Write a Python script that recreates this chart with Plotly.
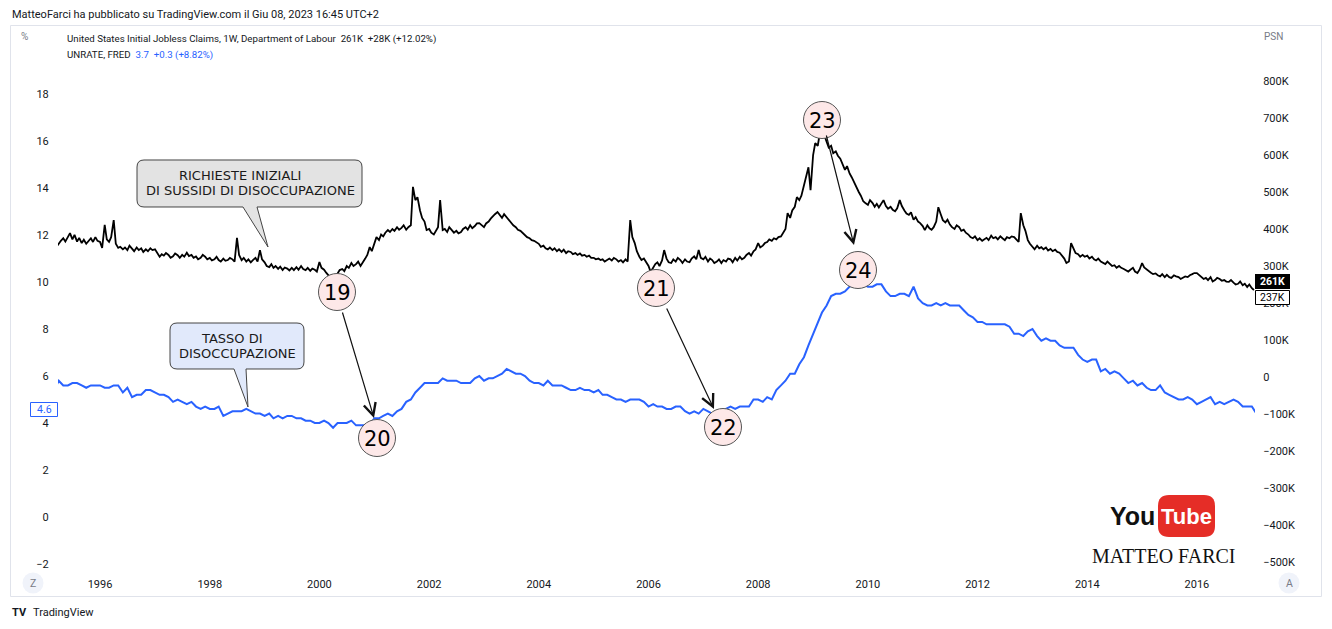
import pandas as pd
import plotly.graph_objects as go

# ---------------- DATA ----------------
# Initial jobless claims (thousands), semi-monthly readings, from 1995-03-01
claims_k = [
    # 1995 (Mar-Dec)
    343, 352, 360, 368, 375, 366, 380, 389, 372, 384, 366, 376, 362, 371, 360, 368, 375, 365, 378, 368,
    # 1996
    365, 349, 411, 372, 365, 378, 424, 360, 349, 352, 345, 350, 343, 355, 346, 340, 350, 343, 348, 338, 345, 340, 348, 343,
    # 1997
    345, 335, 325, 332, 328, 335, 330, 322, 326, 334, 329, 322, 330, 325, 336, 327, 330, 322, 326, 318, 322, 330, 325, 318,
    # 1998
    322, 315, 318, 325, 316, 312, 320, 314, 316, 322, 318, 312, 376, 330, 316, 322, 312, 318, 310, 316, 322, 312, 343, 318,
    # 1999
    310, 300, 297, 305, 295, 300, 292, 298, 289, 296, 293, 288, 295, 289, 297, 290, 300, 292, 289, 295, 287, 293, 290, 285,
    # 2000
    311, 295, 290, 282, 275, 268, 272, 268, 280, 289, 292, 286, 300, 295, 308, 300, 305, 312, 300, 308, 320, 330, 351, 340,
    # 2001
    365, 378, 370, 385, 380, 390, 397, 392, 400, 395, 405, 398, 403, 410, 398, 405, 410, 514, 478, 486, 450, 430, 420, 397,
    # 2002
    400, 390, 385, 395, 405, 478, 397, 400, 392, 405, 398, 390, 395, 388, 392, 400, 405, 398, 410, 402, 408, 415, 416, 410,
    # 2003
    405, 415, 420, 428, 435, 440, 446, 438, 430, 440, 432, 424, 418, 410, 405, 398, 395, 389, 385, 378, 375, 370, 368, 365,
    # 2004
    360, 352, 355, 348, 345, 350, 343, 348, 340, 345, 338, 344, 335, 340, 338, 332, 335, 330, 334, 328, 330, 325, 328, 322,
    # 2005
    322, 318, 320, 316, 318, 312, 316, 320, 315, 322, 318, 312, 316, 310, 318, 312, 424, 378, 362, 340, 325, 316, 320, 310,
    # 2006
    300, 284, 295, 305, 310, 300, 315, 343, 320, 310, 308, 318, 312, 322, 316, 308, 318, 312, 310, 320, 326, 318, 343, 322,
    # 2007
    318, 325, 312, 320, 316, 308, 312, 318, 308, 316, 312, 320, 318, 310, 322, 315, 325, 318, 322, 330, 335, 328, 340, 345,
    # 2008
    362, 350, 355, 362, 365, 372, 368, 375, 372, 378, 380, 388, 400, 443, 430, 450, 460, 486, 478, 490, 520, 540, 567, 505,
    # 2009
    600, 632, 625, 659, 648, 655, 632, 620, 625, 605, 610, 598, 590, 575, 560, 570, 550, 540, 525, 514, 500, 490, 475, 470,
    # 2010
    465, 478, 470, 460, 468, 458, 470, 478, 462, 455, 460, 452, 448, 456, 478, 462, 450, 442, 438, 445, 425, 432, 420, 416,
    # 2011
    408, 397, 410, 402, 398, 405, 420, 459, 440, 424, 418, 425, 412, 405, 400, 410, 405, 395, 398, 390, 385, 378, 375, 380,
    # 2012
    370, 375, 368, 372, 376, 370, 382, 375, 378, 372, 380, 375, 370, 378, 375, 380, 378, 372, 365, 443, 410, 395, 370, 360,
    # 2013
    352, 345, 355, 348, 351, 345, 350, 342, 346, 340, 344, 338, 336, 330, 320, 308, 312, 362, 345, 335, 332, 325, 330, 325,
    # 2014
    328, 320, 325, 318, 315, 320, 312, 308, 305, 312, 306, 300, 302, 295, 300, 295, 292, 288, 285, 290, 295, 285, 281, 290,
    # 2015
    308, 296, 290, 285, 282, 278, 280, 275, 272, 278, 270, 276, 270, 268, 275, 272, 270, 265, 268, 272, 270, 275, 278, 281,
    # 2016
    281, 276, 270, 265, 268, 262, 270, 258, 262, 268, 265, 260, 262, 258, 257, 262, 255, 250, 252, 258, 248, 252, 243, 250,
    # 2017 (Jan)
    240, 235,
]

# Unemployment rate (%), monthly, from 1995-03
unrate = [
    5.4, 5.8, 5.6, 5.6, 5.7, 5.7, 5.6, 5.5, 5.6, 5.6,
    5.6, 5.5, 5.5, 5.6, 5.6, 5.3, 5.5, 5.1, 5.2, 5.2, 5.4, 5.4,
    5.3, 5.2, 5.2, 5.1, 4.9, 5.0, 4.9, 4.8, 4.9, 4.7, 4.6, 4.7,
    4.6, 4.6, 4.7, 4.3, 4.4, 4.5, 4.5, 4.5, 4.6, 4.5, 4.4, 4.4,
    4.3, 4.4, 4.2, 4.3, 4.2, 4.3, 4.3, 4.2, 4.2, 4.1, 4.1, 4.0,
    4.0, 4.1, 4.0, 3.8, 4.0, 4.0, 4.0, 4.1, 3.9, 3.9, 3.9, 3.9,
    4.2, 4.2, 4.3, 4.4, 4.3, 4.5, 4.6, 4.9, 5.0, 5.3, 5.5, 5.7,
    5.7, 5.7, 5.7, 5.9, 5.8, 5.8, 5.8, 5.7, 5.7, 5.7, 5.9, 6.0,
    5.8, 5.9, 5.9, 6.0, 6.1, 6.3, 6.2, 6.1, 6.1, 6.0, 5.8, 5.7,
    5.7, 5.6, 5.8, 5.6, 5.6, 5.6, 5.5, 5.4, 5.4, 5.5, 5.4, 5.4,
    5.3, 5.4, 5.2, 5.2, 5.1, 5.0, 5.0, 4.9, 5.0, 5.0, 5.0, 4.9,
    4.7, 4.8, 4.7, 4.7, 4.6, 4.6, 4.7, 4.7, 4.5, 4.4, 4.5, 4.4,
    4.6, 4.5, 4.4, 4.5, 4.4, 4.6, 4.7, 4.6, 4.7, 4.7, 4.7, 5.0,
    5.0, 4.9, 5.1, 5.0, 5.4, 5.6, 5.8, 6.1, 6.1, 6.5, 6.8, 7.3,
    7.8, 8.3, 8.7, 9.0, 9.4, 9.5, 9.5, 9.6, 9.8, 10.0, 9.9, 9.9,
    9.8, 9.8, 9.9, 9.9, 9.6, 9.4, 9.4, 9.5, 9.5, 9.4, 9.8, 9.3,
    9.1, 9.0, 9.0, 9.1, 9.0, 9.1, 9.0, 9.0, 9.0, 8.8, 8.6, 8.5,
    8.3, 8.3, 8.2, 8.2, 8.2, 8.2, 8.2, 8.1, 7.8, 7.8, 7.7, 7.9,
    8.0, 7.7, 7.5, 7.6, 7.5, 7.5, 7.3, 7.2, 7.2, 7.2, 6.9, 6.7,
    6.6, 6.7, 6.7, 6.2, 6.3, 6.1, 6.2, 6.1, 5.9, 5.7, 5.8, 5.6,
    5.7, 5.5, 5.4, 5.4, 5.6, 5.3, 5.2, 5.1, 5.0, 5.0, 5.1, 5.0,
    4.8, 4.9, 5.0, 5.1, 4.8, 4.9, 4.8, 4.9, 5.0, 4.9, 4.7, 4.7,
    4.7, 4.4,
]

left_ticks = [-2, 0, 2, 4, 6, 8, 10, 12, 14, 16, 18]
left_labels = ["\u22122", "0", "2", "4", "6", "8", "10", "12", "14", "16", "18"]
right_ticks = [-500, -400, -300, -200, -100, 0, 100, 200, 300, 400, 500, 600, 700, 800]
right_labels = ["\u2212500K", "\u2212400K", "\u2212300K", "\u2212200K", "\u2212100K", "0",
                "100K", "200K", "300K", "400K", "500K", "600K", "700K", "800K"]

claims_dates = pd.date_range("1995-03-01", periods=len(claims_k), freq="SMS")
unrate_dates = pd.date_range("1995-03-01", periods=len(unrate), freq="MS")

# ---------------- LAYOUT HELPERS ----------------
# All positions below are in window pixels; the page body adds an 8px offset.
OFF = 8
WIN_W, WIN_H = 1332, 629
FIG_W, FIG_H = WIN_W - OFF, WIN_H - 2 * OFF
L, R, T, B = 58, 1255, 25, 572          # plot area in window pixels
FONT = "Roboto, 'Open Sans', sans-serif"
TXT = "#131722"


def px(x):
    return (x - L) / (R - L)


def py(y):
    return (B - y) / (B - T)


def pt(x, y):
    return f"{px(x):.5f},{py(y):.5f}"


def rounded_rect_path(x0, y0, x1, y1, r, tail=None):
    p = f"M {pt(x0 + r, y0)} L {pt(x1 - r, y0)} Q {pt(x1, y0)} {pt(x1, y0 + r)} "
    p += f"L {pt(x1, y1 - r)} Q {pt(x1, y1)} {pt(x1 - r, y1)} "
    if tail:
        bl, br, tx, ty = tail
        p += f"L {pt(br, y1)} L {pt(tx, ty)} L {pt(bl, y1)} "
    p += f"L {pt(x0 + r, y1)} Q {pt(x0, y1)} {pt(x0, y1 - r)} "
    p += f"L {pt(x0, y0 + r)} Q {pt(x0, y0)} {pt(x0 + r, y0)} Z"
    return p


shapes = []
annotations = []


def text(x, y, s, size=11, color=TXT, xanchor="left", family=FONT, yanchor="middle"):
    annotations.append(dict(
        x=px(x), y=py(y), xref="paper", yref="paper", text=s, showarrow=False,
        xanchor=xanchor, yanchor=yanchor, font=dict(size=size, color=color, family=family),
    ))


def rect(x0, y0, x1, y1, fill, line=None, width=1):
    shapes.append(dict(
        type="rect", xref="paper", yref="paper", x0=px(x0), x1=px(x1), y0=py(y1), y1=py(y0),
        fillcolor=fill, line=dict(color=line if line else "rgba(0,0,0,0)", width=width if line else 0),
        layer="above",
    ))


def circle(cx, cy, r, fill, line=None, width=1):
    shapes.append(dict(
        type="circle", xref="paper", yref="paper", x0=px(cx - r), x1=px(cx + r), y0=py(cy + r), y1=py(cy - r),
        fillcolor=fill, line=dict(color=line if line else "rgba(0,0,0,0)", width=width if line else 0),
        layer="above",
    ))


def arrow(tx, ty, hx, hy):
    annotations.append(dict(
        x=px(hx), y=py(hy), xref="paper", yref="paper", ax=tx - hx, ay=ty - hy,
        axref="pixel", ayref="pixel", text="", showarrow=True, arrowhead=5, arrowsize=2.0,
        arrowwidth=1.2, arrowcolor="#111111", standoff=0, startstandoff=0,
    ))


# outer frame
shapes.append(dict(type="rect", xref="paper", yref="paper", x0=px(10.5), x1=px(1321.5), y0=py(596.5), y1=py(25.5),
                   line=dict(color="#e0e3eb", width=1), fillcolor="rgba(0,0,0,0)", layer="below"))

# header & legend
text(10, 14, "MatteoFarci ha pubblicato su TradingView.com il Giu 08, 2023 16:45 UTC+2", size=11)
text(19, 37, "%", size=10, color="#787b86")
text(1273, 37, "PSN", size=10, color="#787b86", xanchor="center")
text(65, 39, "United States Initial Jobless Claims, 1W, Department of Labour\u00a0\u00a0261K\u00a0\u00a0+28K (+12.02%)", size=9.7)
text(65, 55, "UNRATE, FRED\u00a0\u00a0<span style='color:#2962ff'>3.7\u00a0\u00a0+0.3 (+8.82%)</span>", size=9.7)

# price labels on scales
rect(1255, 274, 1290, 289, "#000000")
text(1272.5, 281.5, "<b>261K</b>", size=10.5, color="#ffffff", xanchor="center")
rect(1255.5, 290.5, 1289.5, 304.5, "#ffffff", line="#000000")
text(1272.5, 297.5, "237K", size=10.5, color="#000000", xanchor="center")
rect(30.5, 402.5, 57.5, 416.5, "#ffffff", line="#2962ff")
text(44, 409.5, "4.6", size=10.5, color="#2962ff", xanchor="center")

# Z / A buttons
circle(33, 583, 10.5, "#f0f3fa")
text(33, 583, "Z", size=10.5, color="#787b86", xanchor="center")
circle(1289, 583, 10.5, "#f0f3fa")
text(1289, 583, "A", size=10.5, color="#787b86", xanchor="center")

# TradingView footer
text(10, 612, "<b>TV</b>", size=11, color="#131722")
text(31, 612, "TradingView", size=11, color="#131722")

# callouts
shapes.append(dict(type="path", xref="paper", yref="paper",
                   path=rounded_rect_path(137, 160, 362, 207, 7, tail=(243, 257, 268, 247)),
                   fillcolor="#e3e3e3", line=dict(color="#444444", width=1), layer="above"))
text(240, 175, "RICHIESTE INIZIALI", size=13, color="#1a1a1a", xanchor="center", family="DejaVu Sans")
text(250, 190, "DI SUSSIDI DI DISOCCUPAZIONE", size=13, color="#1a1a1a", xanchor="center", family="DejaVu Sans")

shapes.append(dict(type="path", xref="paper", yref="paper",
                   path=rounded_rect_path(170, 323, 304, 369, 7, tail=(234, 246, 248, 407)),
                   fillcolor="#e1e9fb", line=dict(color="#444444", width=1), layer="above"))
text(232, 338, "TASSO DI", size=13, color="#1a1a1a", xanchor="center", family="DejaVu Sans")
text(237, 353, "DISOCCUPAZIONE", size=13, color="#1a1a1a", xanchor="center", family="DejaVu Sans")

# arrows
arrow(342, 311, 374, 418)
arrow(666, 307, 714, 409)
arrow(826, 134, 854, 245)

# numbered circles
for num, cx, cy in [("19", 337, 292), ("20", 377, 438), ("21", 656, 288),
                    ("22", 723, 427), ("23", 822, 120), ("24", 858, 270)]:
    circle(cx, cy, 18.5, "#fde8e8", line="#555555", width=1)
    text(cx, cy + 1, num, size=21, color="#000000", xanchor="center", family="DejaVu Sans")

# YouTube / Matteo Farci logo
text(1157, 516, "<b>You</b>", size=25, color="#111111", xanchor="right",
     family="'Liberation Sans', Arial, sans-serif")
shapes.append(dict(type="path", xref="paper", yref="paper",
                   path=rounded_rect_path(1158, 495, 1215, 537, 11),
                   fillcolor="#e52d27", line=dict(color="#e52d27", width=0), layer="above"))
text(1186.5, 516, "<b>Tube</b>", size=22, color="#ffffff", xanchor="center",
     family="'Liberation Sans', Arial, sans-serif")
text(1164, 556, "MATTEO FARCI", size=20, color="#111111", xanchor="center",
     family="'Liberation Serif', 'DejaVu Serif', serif")

# ---------------- FIGURE ----------------
fig = go.Figure()
fig.add_trace(go.Scatter(x=unrate_dates, y=unrate, mode="lines", yaxis="y",
                         line=dict(color="#2962ff", width=2), showlegend=False, hoverinfo="skip"))
fig.add_trace(go.Scatter(x=claims_dates, y=claims_k, mode="lines", yaxis="y2",
                         line=dict(color="#000000", width=1.8), showlegend=False, hoverinfo="skip"))

fig.update_layout(
    width=FIG_W, height=FIG_H,
    margin=dict(l=L - OFF, r=FIG_W - (R - OFF), t=T - OFF, b=FIG_H - (B - OFF), pad=0),
    paper_bgcolor="#ffffff", plot_bgcolor="#ffffff",
    font=dict(family=FONT, size=11, color=TXT),
    xaxis=dict(type="date", range=["1995-03-27", "2017-01-22"], tickformat="%Y", dtick="M24",
               tick0="1996-01-01", showgrid=False, zeroline=False, showline=False,
               ticks="outside", ticklen=2, tickcolor="rgba(0,0,0,0)",
               tickfont=dict(size=11, color=TXT, family=FONT)),
    yaxis=dict(range=[-2.34, 20.936], tickvals=left_ticks, ticktext=left_labels, side="left",
               showgrid=False, zeroline=False, showline=False, ticks="outside", ticklen=6,
               tickcolor="rgba(0,0,0,0)", tickfont=dict(size=11, color=TXT, family=FONT)),
    yaxis2=dict(range=[-527.03, 951.35], tickvals=right_ticks, ticktext=right_labels, side="right",
                overlaying="y", showgrid=False, zeroline=False, showline=False, ticks="outside",
                ticklen=5, tickcolor="rgba(0,0,0,0)", tickfont=dict(size=11, color=TXT, family=FONT)),
    shapes=shapes,
    annotations=annotations,
)

fig.write_html("out.html")
